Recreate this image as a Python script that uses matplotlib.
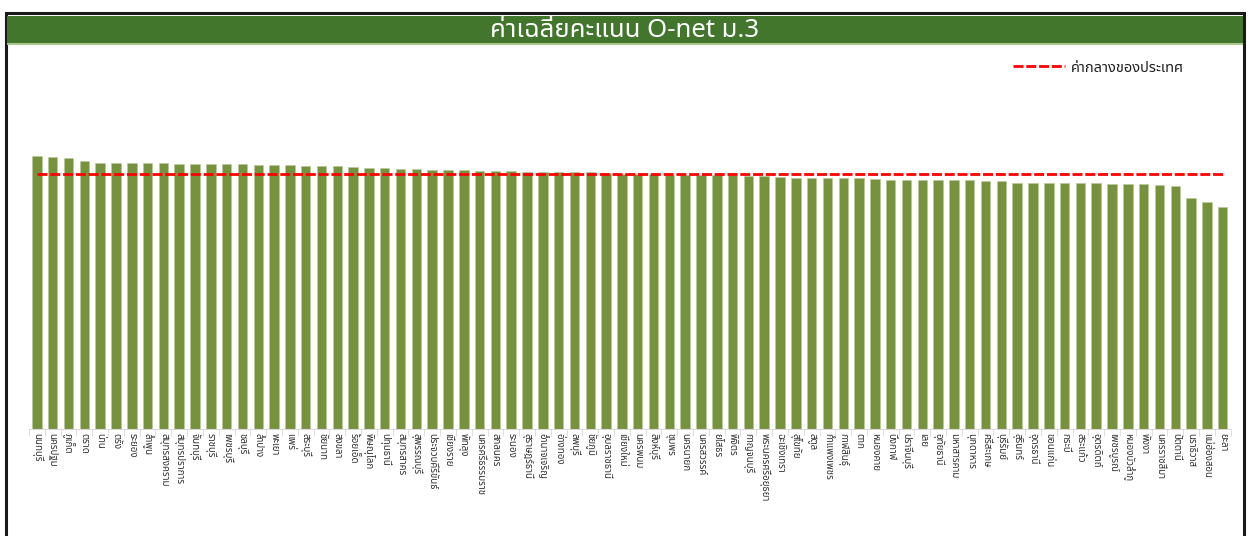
import numpy as np
import matplotlib
matplotlib.use('Agg')
import matplotlib.pyplot as plt
from matplotlib.patches import Rectangle

plt.rcParams['font.family'] = ['Noto Sans Thai', 'DejaVu Sans']

# provinces, ranked by average O-net score (M.3)
provinces = [
    'นนทบุรี', 'นครปฐม', 'ภูเก็ต', 'ตราด', 'น่าน', 'ตรัง', 'ระยอง', 'ลำพูน',
    'สมุทรสงคราม', 'สมุทรปราการ', 'จันทบุรี', 'ราชบุรี', 'เพชรบุรี', 'ชลบุรี',
    'ลำปาง', 'พะเยา', 'แพร่', 'สระบุรี', 'ชัยนาท', 'สงขลา', 'ร้อยเอ็ด',
    'พิษณุโลก', 'ปทุมธานี', 'สมุทรสาคร', 'สุพรรณบุรี', 'ประจวบคีรีขันธ์',
    'เชียงราย', 'พัทลุง', 'นครศรีธรรมราช', 'สกลนคร', 'ระนอง', 'สุราษฎร์ธานี',
    'อำนาจเจริญ', 'อ่างทอง', 'ลพบุรี', 'ชัยภูมิ', 'อุบลราชธานี', 'เชียงใหม่',
    'นครพนม', 'สิงห์บุรี', 'ชุมพร', 'นครนายก', 'นครสวรรค์', 'ยโสธร', 'พิจิตร',
    'กาญจนบุรี', 'พระนครศรีอยุธยา', 'ฉะเชิงเทรา', 'สุโขทัย', 'สตูล',
    'กำแพงเพชร', 'กาฬสินธุ์', 'ตาก', 'หนองคาย', 'บึงกาฬ', 'ปราจีนบุรี', 'เลย',
    'อุทัยธานี', 'มหาสารคาม', 'มุกดาหาร', 'ศรีสะเกษ', 'บุรีรัมย์', 'สุรินทร์',
    'อุดรธานี', 'ขอนแก่น', 'กระบี่', 'สระแก้ว', 'อุตรดิตถ์', 'เพชรบูรณ์',
    'หนองบัวลำภู', 'พังงา', 'นครราชสีมา', 'ปัตตานี', 'นราธิวาส', 'แม่ฮ่องสอน',
    'ยะลา',
]
scores = [
    32.12, 31.96, 31.88, 31.57, 31.33, 31.33, 31.33, 31.29, 31.25, 31.22,
    31.22, 31.18, 31.14, 31.14, 31.10, 31.10, 31.02, 30.98, 30.98, 30.90,
    30.82, 30.67, 30.67, 30.59, 30.55, 30.47, 30.47, 30.43, 30.35, 30.31,
    30.31, 30.27, 30.27, 30.27, 30.24, 30.20, 30.16, 30.00, 29.96, 29.96,
    29.92, 29.92, 29.88, 29.88, 29.84, 29.76, 29.76, 29.69, 29.57, 29.53,
    29.53, 29.49, 29.49, 29.41, 29.33, 29.33, 29.29, 29.29, 29.29, 29.29,
    29.22, 29.14, 28.94, 28.94, 28.94, 28.94, 28.90, 28.90, 28.86, 28.86,
    28.82, 28.75, 28.63, 27.14, 26.67, 26.08,
]
national = [30.00] * len(provinces)

title = 'ค่าเฉลี่ยคะแนน O-net ม.3'
legend_label = 'ค่ากลางของประเทศ'

fig = plt.figure(figsize=(12.5, 5.36), dpi=100)

# frame + title bar
fig.add_artist(Rectangle((0.0048, -0.05), 0.9904, 1.0257, transform=fig.transFigure,
                         fill=False, edgecolor='#1a1a1a', linewidth=2.2))
fig.add_artist(Rectangle((0.0056, 0.9198), 0.9888, 0.0503, transform=fig.transFigure,
                         facecolor='#41762C', edgecolor='none'))
fig.add_artist(Rectangle((0.0056, 0.9160), 0.9888, 0.0045, transform=fig.transFigure,
                         facecolor='#A9C98F', edgecolor='none'))
fig.text(0.5, 0.931, title, color='white', fontsize=18.5, ha='center', va='baseline')

ax = fig.add_axes([0.0232, 0.1996, 0.9613, 0.6884])
x = np.arange(len(provinces))
ax.bar(x, scores, width=0.6, color='#76923C', edgecolor='#B7C99A', linewidth=0.4)
ax.plot(x, national, color='#FF0000', linestyle=(0, (3.6, 1.0)), linewidth=2.0,
        label=legend_label)

ax.set_xlim(-0.5, len(provinces) - 0.5)
ax.set_ylim(0, 43.4)
ax.set_yticks([])
for s in ['top', 'right', 'left']:
    ax.spines[s].set_visible(False)
ax.spines['bottom'].set_color('#D9D9D9')
ax.set_xticks(x)
ax.set_xticklabels(provinces, rotation=270, fontsize=7, color='#333333')
ax.tick_params(axis='x', which='major', length=0, pad=3)
ax.set_xticks(np.arange(-0.5, len(provinces), 1), minor=True)
ax.tick_params(axis='x', which='minor', length=5, color='#D9D9D9', direction='out')

leg = ax.legend(loc='center right', bbox_to_anchor=(0.958, 0.873),
                bbox_transform=fig.transFigure, frameon=False, fontsize=10.5,
                handlelength=3.6, handletextpad=0.4)
for t in leg.get_texts():
    t.set_color('#1F1F1F')

fig.savefig('out.png', dpi=100)
